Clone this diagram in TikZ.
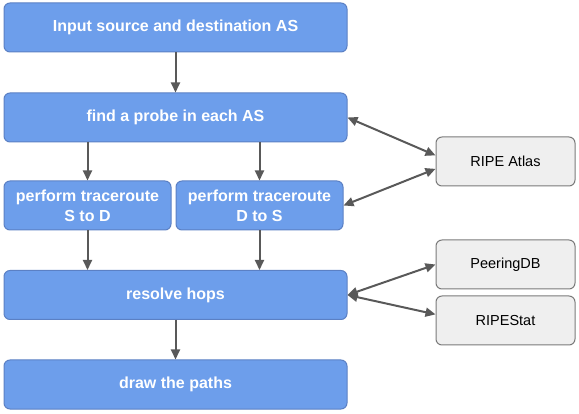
\documentclass[tikz,border=0pt]{standalone}
\usepackage{fontspec}
\setmainfont{Liberation Sans}
\usetikzlibrary{arrows.meta,calc}
\definecolor{stepblue}{HTML}{6D9EEB}
\definecolor{stepedge}{HTML}{5B80C4}
\definecolor{srcgray}{HTML}{EFEFEF}
\definecolor{srcedge}{HTML}{7A7A7A}
\definecolor{ink}{HTML}{595959}
\tikzset{
  box/.style={draw=stepedge,line width=1pt,rounded corners=6pt,fill=stepblue,inner sep=0pt,align=center,text=white,font=\fontsize{16}{20}\selectfont\bfseries},
  wide/.style={box,minimum width=343pt,minimum height=49pt},
  half/.style={box,minimum width=167pt,minimum height=49pt},
  src/.style={draw=srcedge,line width=1pt,rounded corners=6pt,fill=srcgray,inner sep=0pt,minimum width=139pt,minimum height=49pt,text=black,font=\fontsize{14.5}{17}\selectfont},
  ar/.style={-{Triangle[length=10pt,width=9pt]},draw=ink,line width=2pt},
  dar/.style={ar,{Triangle[length=10pt,width=9pt]}-{Triangle[length=10pt,width=9pt]}},
}
\begin{document}
\begin{tikzpicture}[x=1pt,y=-1pt]
  \useasboundingbox (0,0) rectangle (579,414);
  % ── pipeline ──
  \node[wide] (input) at (175.5,27.5) {Input source and destination AS};
  \node[wide] (probe) at (175.5,117.5) {find a probe in each AS};
  \node[half] (s2d) at (87.5,205.5) {perform traceroute\\S to D};
  \node[half] (d2s) at (259.5,205.5) {perform traceroute\\D to S};
  \node[wide] (hops) at (175.5,295) {resolve hops};
  \node[wide] (paths) at (175.5,384.5) {draw the paths};
  % ── data sources ──
  \node[src] (atlas) at (505.5,161.5) {RIPE Atlas};
  \node[src] (peering) at (505.5,264.5) {PeeringDB};
  \node[src] (ripestat) at (505.5,320.5) {RIPEStat};
  % ── arrows ──
  \draw[ar] (input) -- (probe);
  \draw[ar] (probe.south -| s2d.north) -- (s2d);
  \draw[ar] (probe.south -| d2s.north) -- (d2s);
  \draw[ar] (s2d) -- (s2d.south |- hops.north);
  \draw[ar] (d2s) -- (d2s.south |- hops.north);
  \draw[ar] (hops) -- (paths);
  \draw[dar] (probe.east) -- (atlas.175);
  \draw[dar] (d2s.east) -- (atlas.186);
  \draw[dar] (hops.east) -- (peering.west);
  \draw[dar] (hops.east) -- (ripestat.175);
\end{tikzpicture}
\end{document}
